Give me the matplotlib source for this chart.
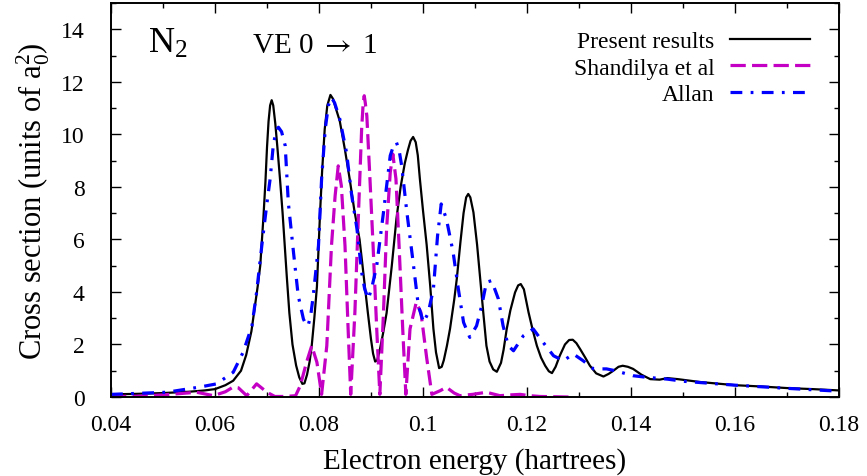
import matplotlib
matplotlib.use("Agg")
import matplotlib.pyplot as plt
from matplotlib.ticker import MultipleLocator

plt.rcParams["font.family"] = ["Liberation Serif", "DejaVu Serif"]
plt.rcParams["mathtext.fontset"] = "custom"
plt.rcParams["mathtext.rm"] = "Liberation Serif"
plt.rcParams["mathtext.it"] = "Liberation Serif:italic"
plt.rcParams["lines.scale_dashes"] = False

# Present results (energy in hartrees, cross section in a0^2)
present_x = [0.040, 0.045, 0.050, 0.055, 0.058, 0.060, 0.062, 0.0635, 0.065, 0.066,
             0.067, 0.0677, 0.0682, 0.0687, 0.0690, 0.0693, 0.0697, 0.0700, 0.0703, 0.0706,
             0.0709, 0.0712, 0.0716, 0.0720, 0.0725, 0.0730, 0.0734, 0.0738, 0.0743, 0.0749,
             0.0756, 0.0762, 0.0768, 0.0772, 0.0777, 0.0782, 0.0786, 0.0791, 0.0796, 0.0799,
             0.0802, 0.0806, 0.0811, 0.0816, 0.0822, 0.0827, 0.0833, 0.0840, 0.0850, 0.0859,
             0.0868, 0.0878, 0.0886, 0.0894, 0.0900, 0.0904, 0.0908, 0.0912, 0.0917, 0.0923,
             0.0930, 0.0940, 0.0949, 0.0957, 0.0965, 0.0971, 0.0976, 0.0981, 0.0986, 0.0990,
             0.0994, 0.1000, 0.1007, 0.1014, 0.1020, 0.1025, 0.1031, 0.1036, 0.1040, 0.1046,
             0.1052, 0.1060, 0.1065, 0.1072, 0.1078, 0.1083, 0.1087, 0.1091, 0.1097, 0.1104,
             0.1110, 0.1116, 0.1122, 0.1128, 0.1135, 0.1142, 0.1150, 0.1155, 0.1161, 0.1168,
             0.1177, 0.1183, 0.1188, 0.1194, 0.1203, 0.1211, 0.1219, 0.1227, 0.1235, 0.1242,
             0.1248, 0.1255, 0.1263, 0.1273, 0.1281, 0.1288, 0.1295, 0.1302, 0.1312, 0.1321,
             0.1333, 0.1347, 0.1357, 0.1366, 0.1376, 0.1384, 0.1394, 0.1404, 0.1420, 0.1437,
             0.1455, 0.1470, 0.1490, 0.1533, 0.1600, 0.1650, 0.1700, 0.1750, 0.1800]
present_y = [0.10, 0.12, 0.15, 0.20, 0.25, 0.30, 0.45, 0.62, 1.00, 1.60,
             2.50, 3.50, 4.20, 5.00, 5.90, 6.80, 8.20, 9.50, 10.50, 11.10,
             11.30, 11.10, 10.40, 9.50, 8.30, 7.00, 5.80, 4.60, 3.20, 2.00,
             1.20, 0.75, 0.50, 0.52, 0.85, 1.35, 1.95, 3.00, 4.20, 5.60,
             7.00, 8.60, 10.20, 11.10, 11.50, 11.35, 10.95, 10.50, 9.40, 8.30,
             7.10, 6.00, 4.60, 3.20, 2.20, 1.65, 1.35, 1.40, 1.80, 2.40,
             3.20, 5.00, 6.80, 8.00, 8.90, 9.40, 9.75, 9.90, 9.70, 9.20,
             8.30, 7.10, 5.80, 4.20, 2.60, 1.70, 1.10, 1.15, 1.40, 1.95,
             2.60, 3.70, 4.50, 5.90, 7.00, 7.60, 7.73, 7.60, 7.03, 5.80,
             4.49, 3.20, 1.95, 1.35, 1.05, 0.96, 1.30, 1.80, 2.59, 3.30,
             3.98, 4.25, 4.30, 4.10, 3.22, 2.55, 1.95, 1.50, 1.19, 0.98,
             0.91, 1.15, 1.57, 2.00, 2.17, 2.18, 2.05, 1.83, 1.50, 1.19,
             0.90, 0.78, 0.88, 1.00, 1.15, 1.19, 1.15, 1.07, 0.85, 0.68,
             0.66, 0.72, 0.68, 0.57, 0.45, 0.40, 0.34, 0.30, 0.25]

# Shandilya et al
shandilya_x = [0.040, 0.045, 0.050, 0.0565, 0.0597, 0.0620, 0.0635, 0.0645, 0.0661, 0.0680,
               0.0700, 0.0715, 0.0735, 0.0755, 0.0764, 0.0776, 0.0786, 0.0796, 0.0805, 0.0815,
               0.0824, 0.0831, 0.0837, 0.0843, 0.0850, 0.0856, 0.0861, 0.0869, 0.0876, 0.0882,
               0.0885, 0.0887, 0.0889, 0.0892, 0.0898, 0.0904, 0.0911, 0.0917, 0.0924, 0.0930,
               0.0937, 0.0942, 0.0948, 0.0954, 0.0961, 0.0967, 0.0975, 0.0987, 0.0996, 0.1007,
               0.1017, 0.1033, 0.1045, 0.1060, 0.1071, 0.1095, 0.1122, 0.1148, 0.1168, 0.1187,
               0.1205, 0.1225, 0.1280]
shandilya_y = [0.02, 0.03, 0.08, 0.18, 0.05, 0.20, 0.38, 0.35, 0.05, 0.50,
               0.18, 0.02, 0.02, 0.05, 0.43, 1.32, 1.95, 1.32, 0.10, 1.95,
               5.76, 7.66, 8.80, 8.04, 5.76, 2.59, 0.10, 3.22, 7.03, 10.20,
               11.20, 11.47, 11.20, 10.70, 8.30, 5.76, 2.59, 0.10, 3.22, 6.40,
               8.55, 9.25, 8.30, 5.76, 2.59, 0.10, 2.59, 3.60, 3.22, 1.50,
               0.10, 0.24, 0.37, 0.15, 0.05, 0.10, 0.18, 0.05, 0.08, 0.10,
               0.05, 0.02, 0.00]

# Allan
allan_x = [0.040, 0.0507, 0.0571, 0.0603, 0.0635, 0.0654, 0.0671, 0.0680, 0.0690, 0.0700,
           0.0706, 0.0712, 0.0717, 0.0722, 0.0728, 0.0735, 0.0741, 0.0751, 0.0760, 0.0770,
           0.0774, 0.0779, 0.0784, 0.0789, 0.0799, 0.0805, 0.0812, 0.0818, 0.0824, 0.0830,
           0.0840, 0.0853, 0.0863, 0.0873, 0.0882, 0.0888, 0.0895, 0.0902, 0.0911, 0.0924,
           0.0937, 0.0943, 0.0949, 0.0954, 0.0959, 0.0969, 0.0981, 0.0991, 0.1001, 0.1010,
           0.1020, 0.1028, 0.1035, 0.1045, 0.1058, 0.1068, 0.1078, 0.1090, 0.1103, 0.1113,
           0.1122, 0.1132, 0.1145, 0.1154, 0.1164, 0.1174, 0.1193, 0.1212, 0.1231, 0.1251,
           0.1270, 0.1289, 0.1308, 0.1328, 0.1353, 0.1370, 0.1404, 0.1430, 0.1470, 0.1500,
           0.1533, 0.1600, 0.1700, 0.1800]
allan_y = [0.10, 0.18, 0.38, 0.50, 0.94, 1.70, 2.70, 3.98, 5.76, 7.40,
           8.30, 9.57, 10.10, 10.27, 10.10, 9.57, 7.40, 5.50, 3.86, 2.97,
           2.80, 2.71, 3.10, 3.86, 5.76, 8.30, 10.20, 11.10, 11.40, 11.20,
           10.58, 9.30, 7.66, 6.40, 4.75, 4.10, 3.73, 4.20, 5.00, 7.03,
           9.19, 9.55, 9.69, 9.40, 8.80, 7.03, 5.13, 3.48, 2.84, 3.20,
           4.11, 6.14, 7.35, 6.78, 5.50, 4.11, 2.84, 2.27, 2.71, 3.48,
           4.37, 4.43, 3.73, 2.71, 1.95, 1.76, 2.33, 2.59, 2.08, 1.57,
           1.38, 1.64, 1.38, 1.07, 1.07, 1.00, 0.81, 0.75, 0.68, 0.60,
           0.55, 0.45, 0.33, 0.22]

xtick_vals = [0.04, 0.06, 0.08, 0.10, 0.12, 0.14, 0.16, 0.18]
xtick_labels = ["0.04", "0.06", "0.08", "0.1", "0.12", "0.14", "0.16", "0.18"]
ytick_vals = [0, 2, 4, 6, 8, 10, 12, 14]

fig = plt.figure(figsize=(8.67, 4.77), dpi=100)
ax = fig.add_axes([111 / 867, 1 - 398 / 477, 728 / 867, 394 / 477])

ax.plot(present_x, present_y, color="black", linewidth=1.6, label="Present results")
ax.plot(shandilya_x, shandilya_y, color="#c400c4", linewidth=2.3,
        linestyle=(0, (11, 4.5)), label="Shandilya et al")
ax.plot(allan_x, allan_y, color="#0000ff", linewidth=2.3,
        linestyle=(0, (8.5, 6.0, 2.0, 6.0)), label="Allan")

ax.set_xlim(0.04, 0.18)
ax.set_ylim(0, 15)
ax.set_xticks(xtick_vals)
ax.set_xticklabels(xtick_labels)
ax.set_yticks(ytick_vals)
ax.xaxis.set_minor_locator(MultipleLocator(0.01))
ax.yaxis.set_minor_locator(MultipleLocator(1))
ax.tick_params(which="both", direction="in", top=True, right=True, width=1.0)
ax.tick_params(which="major", length=7.2, labelsize=17)
ax.tick_params(axis="x", which="major", pad=12)
ax.tick_params(axis="y", which="major", pad=19)
ax.tick_params(which="minor", length=3.6)
for s in ax.spines.values():
    s.set_linewidth(1.4)

ax.set_xlabel("Electron energy (hartrees)", fontsize=21)
ax.set_ylabel(r"Cross section (units of $\mathrm{a}_0^2$)", fontsize=22)
ax.xaxis.set_label_coords(0.5, -0.127)
ax.yaxis.set_label_coords(-0.081, 0.5)

ax.text(148 / 867, 1 - 53 / 477, r"N$_2$", transform=fig.transFigure,
        fontsize=26, ha="left", va="baseline")
ax.text(252 / 867, 1 - 53 / 477, r"VE 0 $\rightarrow$ 1", transform=fig.transFigure,
        fontsize=21, ha="left", va="baseline", math_fontfamily="stix")

ax.legend(loc="upper right", bbox_to_anchor=(0.96, 0.93), frameon=False,
          markerfirst=False, fontsize=17, handlelength=3.4, handletextpad=0.64,
          labelspacing=0.21, borderpad=0, borderaxespad=0)

fig.savefig("out.png", dpi=100)
